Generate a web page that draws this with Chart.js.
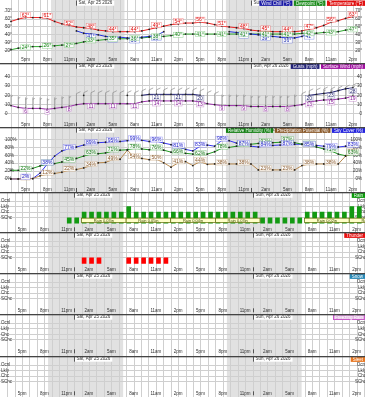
<!DOCTYPE html>
<html><head><meta charset="utf-8">
<script src="https://cdn.jsdelivr.net/npm/chart.js@4.4.1/dist/chart.umd.min.js"></script>
<style>
html,body{margin:0;padding:0;background:#fff;}
#wrap{position:relative;width:365px;height:397px;overflow:hidden;}
canvas{position:absolute;left:0;}
</style></head><body><div id="wrap"></div>
<script>
// ---------- DATA ----------
// hour offsets from 5pm Fri Apr 24 (0 = 5pm)
const hours = [-2,-1,0,1,2,3,4,5,6,7,8,9,10,11,12,13,14,15,16,17,18,19,20,21,22,23,24,25,26,27,28,29,30,31,32,33,34,35,36,37,38,39,40,41,42,43,44,45];
const tickHours = [0,3,6,9,12,15,18,21,24,27,30,33,36,39,42,45];
const tickLabels = ['5pm','8pm','11pm','2am','5am','8am','11am','2pm','5pm','8pm','11pm','2am','5am','8am','11am','2pm'];
const dayStartHours = [7,31];
const dayLabels = ['Sat, Apr 25 2026','Sun, Apr 26 2026'];
const nightStart = [3.5,27.55];
const nightEnd = [13.6,37.6];

const temperature = [57,60,62,62,62,61,57,54,52,50,49,48,46,45,44,44,44,44,45,47,49,51,53,54,55,55,56,55,53,51,50,49,48,46,45,45,44,44,44,44,45,47,49,52,56,58,61,63];
const dewpoint = [21,23,24,25,25,26,26,27,27,29,31,33,33,34,35,35,35,36,36,37,38,38,39,40,41,41,41,41,41,41,41,41,41,41,41,41,41,41,41,41,42,42,42,43,43,44,46,47];
const windChill = [null,null,null,null,null,null,null,null,null,45,42,41,40,38,37,37,36,36,37,38,39,44,null,null,null,null,null,null,null,null,44,43,42,41,40,39,38,37,36,36,38,41,null,null,null,null,null,null];

const surfaceWind = [9,7,6,6,6,5,6,7,8,10,11,11,11,11,11,11,11,11,13,14,14,14,14,14,14,14,13,11,10,9,9,9,9,8,8,8,8,8,8,9,10,13,14,15,15,16,17,19];
const gusts = [null,null,null,null,null,null,null,null,null,null,20,null,null,null,null,null,20,null,20,21,21,21,21,21,21,21,20,null,null,null,null,null,null,null,null,null,null,null,null,null,null,20,21,22,23,25,27,28];

const humidity = [22,22,22,27,33,38,39,43,45,52,58,63,64,66,71,73,74,78,76,74,76,73,68,66,65,63,62,63,69,78,80,83,85,88,90,92,92,93,97,92,88,86,81,76,71,63,59,63];
const skyCover = [0,0,2,1,15,38,58,71,77,81,86,89,92,93,95,95,97,99,98,95,96,91,87,81,75,71,83,86,83,98,97,91,87,83,81,84,85,86,87,88,88,85,85,83,79,81,83,83];
const precipPotential = [0,0,0,1,8,12,14,17,22,24,28,34,41,42,49,50,73,54,52,49,50,41,30,41,44,34,44,37,38,38,38,38,38,38,23,23,23,23,23,23,34,38,38,38,38,38,58,66];

// 0 none, 1 SChc, 2 Chc, 3 Lkly, 4 Ocnl
const rainLevel = [0,0,0,0,0,0,0,0,1,1,2,2,2,2,2,2,3,2,2,2,2,2,2,2,2,2,2,2,2,2,2,2,2,2,1,1,1,1,1,1,2,2,2,2,2,2,3,3];
const thunderLevel = [0,0,0,0,0,0,0,0,0,0,1,1,1,0,0,0,1,1,1,1,1,1,0,0,0,0,0,0,0,0,0,0,0,0,0,0,0,0,0,0,0,0,0,0,0,0,0,0];
const snowLevel = [];
const freezingRainLevel = [];
const sleetLevel = [];

const qpfStart = [8,14,20,26,38,44];
const qpfEnd = [14,20,26,32,44,50];
const qpfText = ['Rain 0.03in','Rain 0.05in','Rain 0.04in','Rain 0.03in','Rain 0.02in','Rain 0.06in'];

const tempTicks = [20,30,40,50,60,70];
const windTicks = [0,10,20,30,40];
const humidityTicks = [0,20,40,60,80,100];
const probTicks = [1,2,3,4];
const probTickLabels = ['SChc','Chc','Lkly','Ocnl'];

// ---------- LAYOUT / STYLE ----------
const X_MIN = -2.96, X_MAX = 46.12;
const BAR_SHIFT = 0.35;
const FONT = '"Liberation Sans", Arial, sans-serif';
const wrap = document.getElementById('wrap');

function yRange(topVal, topPx, ppu, height){ const max = topVal + topPx/ppu; return {min: max - height/ppu, max}; }
function pts(arr){ return hours.map((h,i)=>({x:h, y: arr[i]})); }
function bars(arr){ return arr.map((v,i)=>({x: hours[i] + BAR_SHIFT, y: v ? v : null})); }

function lineDs(arr, color, lblColor, suffix, dy){
  return { type:'line', data: pts(arr), borderColor: color, borderWidth: 1, tension: 0, spanGaps: false,
    pointRadius: 0.9, pointBackgroundColor: '#222', pointBorderWidth: 0,
    lblSuffix: suffix, lblDy: dy, lblColor: lblColor };
}

function drawPointLabels(chart){
  const ctx = chart.ctx;
  ctx.save();
  ctx.font = '5px ' + FONT; ctx.textAlign = 'center'; ctx.textBaseline = 'middle';
  chart.data.datasets.forEach((ds, di) => {
    if (ds.lblSuffix === undefined) return;
    const meta = chart.getDatasetMeta(di);
    ds.data.forEach((p, i) => {
      if (p.y == null || !tickHours.includes(p.x)) return;
      const el = meta.data[i];
      const t = p.y + ds.lblSuffix;
      const w = ctx.measureText(t).width + 2, hh = 5.2;
      const cx = el.x, cy = el.y + ds.lblDy;
      ctx.globalAlpha = 0.85; ctx.fillStyle = '#fff'; ctx.fillRect(cx-w/2, cy-hh/2, w, hh);
      ctx.globalAlpha = 0.5; ctx.strokeStyle = ds.borderColor; ctx.lineWidth = 0.5; ctx.strokeRect(cx-w/2, cy-hh/2, w, hh);
      ctx.globalAlpha = 1; ctx.fillStyle = ds.lblColor; ctx.fillText(t, cx, cy+0.3);
    });
  });
  ctx.restore();
}

function drawBarbs(chart, di){
  const ctx = chart.ctx, meta = chart.getDatasetMeta(di), ds = chart.data.datasets[di];
  ctx.save(); ctx.strokeStyle = '#8d8d8d'; ctx.lineWidth = 0.7;
  meta.data.forEach((el, i) => {
    const v = ds.data[i].y; if (v == null) return;
    const x = el.x, y = el.y, top = y - 11;
    ctx.beginPath(); ctx.moveTo(x, y); ctx.lineTo(x, top);
    const n10 = Math.floor(v/10), n5 = (v % 10) >= 5 ? 1 : 0;
    let yy = top;
    for (let k=0;k<n10;k++){ ctx.moveTo(x, yy); ctx.lineTo(x+4, yy-2); yy += 2; }
    if (n5){ if (n10===0) yy += 2; ctx.moveTo(x, yy); ctx.lineTo(x+2, yy-1); }
    ctx.stroke();
  });
  ctx.restore();
}

function drawQpf(chart){
  const ctx = chart.ctx, xs = chart.scales.x, ys = chart.scales.y;
  ctx.save();
  ctx.font = '4px ' + FONT; ctx.textAlign = 'center'; ctx.textBaseline = 'middle';
  const y0 = ys.getPixelForValue(0.92), y1 = ys.getPixelForValue(0.12);
  qpfStart.forEach((s, i) => {
    const a = xs.getPixelForValue(s), b = xs.getPixelForValue(qpfEnd[i]);
    ctx.fillStyle = '#ffffc8'; ctx.fillRect(a, y0, b-a, y1-y0);
    ctx.strokeStyle = '#5a6a00'; ctx.lineWidth = 0.7; ctx.strokeRect(a, y0, b-a, y1-y0);
    ctx.fillStyle = '#3a4a00'; ctx.fillText(qpfText[i], (a+b)/2, (y0+y1)/2 + 0.2);
  });
  ctx.restore();
}

function panelPlugin(p){
  return {
    id: 'panel_' + p.key,
    beforeDraw(chart){
      const ctx = chart.ctx, xs = chart.scales.x, W = chart.width, H = chart.height;
      ctx.save();
      ctx.fillStyle = '#fff'; ctx.fillRect(0,0,W,H);
      ctx.fillStyle = '#e1e1e1';
      nightStart.forEach((s,i)=>{ const a = xs.getPixelForValue(s), b = xs.getPixelForValue(nightEnd[i]); ctx.fillRect(a,0,b-a,H); });
      ctx.strokeStyle = '#cfcfcf'; ctx.lineWidth = 1; ctx.beginPath();
      for (let h = Math.ceil(X_MIN); h <= X_MAX; h++){ const x = Math.round(xs.getPixelForValue(h)) + 0.5; ctx.moveTo(x,0); ctx.lineTo(x,H); }
      ctx.stroke();
      ctx.restore();
    },
    beforeDatasetsDraw(chart){ if (p.barbs !== undefined) drawBarbs(chart, p.barbs); },
    afterDatasetsDraw(chart){ if (p.qpf) drawQpf(chart); drawPointLabels(chart); },
    afterDraw(chart){
      const ctx = chart.ctx, xs = chart.scales.x, W = chart.width;
      ctx.save();
      ctx.font = '4.5px ' + FONT; ctx.textBaseline = 'middle';
      // time labels
      ctx.fillStyle = '#333'; ctx.textAlign = 'center';
      tickHours.forEach((h,i)=>{ ctx.fillText(tickLabels[i], xs.getPixelForValue(h), p.labelY); });
      // midnight markers + date headers
      dayStartHours.forEach((h,i)=>{
        const x = Math.round(xs.getPixelForValue(h)) + 0.5;
        ctx.strokeStyle = '#333'; ctx.lineWidth = 0.8;
        ctx.beginPath(); ctx.moveTo(x, p.labelY-2); ctx.lineTo(x, p.labelY+2); ctx.stroke();
        const tw = ctx.measureText(dayLabels[i]).width;
        ctx.fillStyle = '#fff'; ctx.fillRect(x, 0.5, tw + 4, 5.2);
        ctx.beginPath(); ctx.moveTo(x, 0.5); ctx.lineTo(x, 5.7); ctx.stroke();
        ctx.fillStyle = '#333'; ctx.textAlign = 'left'; ctx.fillText(dayLabels[i], x + 2, 3.2);
      });
      // legends
      let xr = W;
      for (let i = p.legends.length - 1; i >= 0; i--){
        const L = p.legends[i];
        const w = ctx.measureText(L.text).width + 4, x0 = xr - w;
        ctx.fillStyle = L.bg; ctx.fillRect(x0, 0.5, w, 5.4);
        if (L.border){ ctx.strokeStyle = L.border; ctx.lineWidth = 0.8; ctx.strokeRect(x0+0.4, 0.9, w-0.8, 4.6); }
        ctx.fillStyle = L.fg; ctx.textAlign = 'center'; ctx.fillText(L.text, x0 + w/2, 3.3);
        xr = x0 - 1.5;
      }
      // separator
      if (p.top > 0){ ctx.fillStyle = '#444'; ctx.fillRect(0, 0, W, 1.3); }
      ctx.restore();
    }
  };
}

function makeChart(p){
  const c = document.createElement('canvas');
  c.width = 365; c.height = p.h; c.style.top = p.top + 'px';
  c.style.width = '365px'; c.style.height = p.h + 'px';
  wrap.appendChild(c);
  const yAxis = (pos, grid) => ({
    position: pos, min: p.range.min, max: p.range.max,
    afterFit: s => { s.width = 0; },
    afterBuildTicks: s => { s.ticks = p.ticks.map(v => ({value: v})); },
    grid: { display: grid, color: '#cfcfcf', lineWidth: 1, drawTicks: false },
    border: { display: false },
    ticks: { mirror: true, padding: 1, autoSkip: false, color: '#333', font: { size: 4.5, family: FONT }, callback: v => p.fmt(v) }
  });
  new Chart(c, {
    type: p.type,
    data: { datasets: p.datasets },
    options: {
      responsive: false, animation: false, devicePixelRatio: 1,
      layout: { padding: 0 },
      plugins: { legend: { display: false }, tooltip: { enabled: false } },
      scales: {
        x: { type: 'linear', display: false, min: X_MIN, max: X_MAX, offset: false, grid: { offset: false } },
        y: yAxis('left', true),
        y2: yAxis('right', false)
      }
    },
    plugins: [panelPlugin(p)]
  });
}

const probFmt = v => probTickLabels[probTicks.indexOf(v)] || '';
function probPanel(key, top, h, arr, color, legend){
  return { key, top, h, type: 'bar', range: yRange(4, 6.6, 6.8, h), ticks: probTicks, fmt: probFmt, labelY: 37.3,
    legends: [legend], qpf: key === 'rain',
    datasets: [{ type: 'bar', data: bars(arr), backgroundColor: color, borderWidth: 0, barThickness: 4 }] };
}

const panels = [
  { key:'temp', top:0, h:63, type:'line', range: yRange(70, 8.3, 0.9, 63), ticks: tempTicks, fmt: v => v + '°', labelY: 60,
    legends: [ {text:'Wind Chill (°F)', bg:'#1c1ca6', fg:'#fff'}, {text:'Dewpoint (°F)', bg:'#1e8c1e', fg:'#fff'}, {text:'Temperature (°F)', bg:'#e01010', fg:'#fff'} ],
    datasets: [ lineDs(windChill, '#2233dd', '#1a2ab0', '°', 2.5), lineDs(dewpoint, '#2ea82e', '#1c8a1c', '°', 0), lineDs(temperature, '#ee2222', '#e00000', '°', -2.5) ] },
  { key:'wind', top:63, h:64, type:'line', range: yRange(40, 11, 1.0675, 64), ticks: windTicks, fmt: v => '' + v, labelY: 61.3, barbs: 1,
    legends: [ {text:'Gusts (mph)', bg:'#222277', fg:'#fff'}, {text:'Surface Wind (mph)', bg:'#a010a0', fg:'#fff'} ],
    datasets: [ lineDs(gusts, '#1e1e6e', '#1e1e6e', '', 3), lineDs(surfaceWind, '#9a30a8', '#8a1a9a', '', 2.5) ] },
  { key:'hum', top:127, h:65, type:'line', range: yRange(100, 9.7, 0.45, 65), ticks: humidityTicks, fmt: v => v + '%', labelY: 63,
    legends: [ {text:'Relative Humidity (%)', bg:'#158015', fg:'#fff'}, {text:'Precipitation Potential (%)', bg:'#8b5a2b', fg:'#fff'}, {text:'Sky Cover (%)', bg:'#2424dd', fg:'#fff'} ],
    datasets: [ lineDs(precipPotential, '#b88a50', '#8b5a2b', '%', -1.5), lineDs(humidity, '#229922', '#137713', '%', -1.5), lineDs(skyCover, '#3434ee', '#2020cc', '%', -1.5) ] },
  probPanel('rain', 192, 40, rainLevel, '#129a12', {text:'Rain', bg:'#0a9a0a', fg:'#fff'}),
  probPanel('thunder', 232, 41, thunderLevel, '#ff0000', {text:'Thunder', bg:'#e81010', fg:'#fff'}),
  probPanel('snow', 273, 41, snowLevel, '#2a8ab8', {text:'Snow', bg:'#2a8ab8', fg:'#fff'}),
  probPanel('frz', 314, 42, freezingRainLevel, '#cc66cc', {text:'Freezing Rain', bg:'#e4b8e4', fg:'#fff', border:'#c040c0'}),
  probPanel('sleet', 356, 41, sleetLevel, '#e87722', {text:'Sleet', bg:'#e87722', fg:'#fff'})
];
panels.forEach(makeChart);
</script>
</body></html>
